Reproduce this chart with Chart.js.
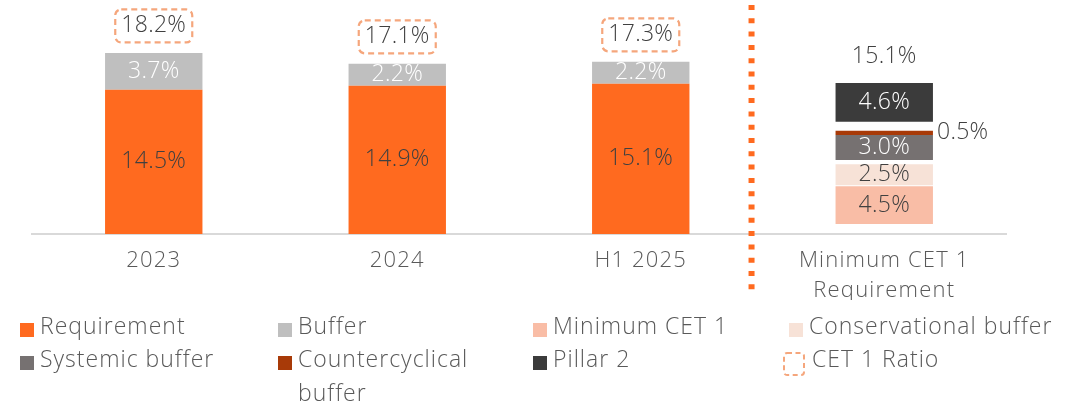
<!DOCTYPE html>
<html>
<head>
<meta charset="utf-8">
<script src="https://cdn.jsdelivr.net/npm/chart.js@4.4.1/dist/chart.umd.min.js"></script>
<style>
  html, body { margin: 0; padding: 0; background: #ffffff; }
  #wrap { width: 1079px; height: 408px; }
</style>
</head>
<body>
<div id="wrap"><canvas id="c" width="1079" height="408"></canvas></div>
<script>
// ---------------- DATA ----------------
const categories = ['2023', '2024', 'H1 2025', ['Minimum CET 1', 'Requirement']];
const requirement = [14.5, 14.9, 15.1, null];
const buffer = [3.7, 2.2, 2.2, null];
const cet1Ratio = [18.2, 17.1, 17.3, null];
const minimumLabels = ['Minimum CET 1', 'Conservational buffer', 'Systemic buffer', 'Countercyclical buffer', 'Pillar 2'];
const minimumValues = [4.5, 2.5, 3.0, 0.5, 4.6];

// ---------------- STYLE ----------------
const FONT = "'Open Sans', sans-serif";
const W = 300;
const TEXT_DARK = '#404040';
const LEGEND_TEXT = '#595959';
const ORANGE = '#FF6A1F';
const GREY = '#BFBFBF';
const RATIO_COLOR = '#F5A67C';
const minColors = ['#F9BDA6', '#F7E2D7', '#767171', '#A83A08', '#3B3B3B'];
const minLabelColors = [TEXT_DARK, TEXT_DARK, '#FFFFFF', TEXT_DARK, '#FFFFFF'];
const minGaps = [1.2, 0.12, 0.48, 0, 1.07]; // visual spacing between floating segments (y2 units)

let cursor = 0;
const minDatasets = minimumValues.map((v, i) => {
  cursor += minGaps[i];
  const start = cursor;
  cursor += v;
  const end = cursor;
  return {
    label: minimumLabels[i],
    data: categories.map((_, k) => (k === categories.length - 1 ? [start, end] : null)),
    backgroundColor: minColors[i],
    yAxisID: 'y2',
    stack: 's',
    labelColor: minLabelColors[i],
    valueLabel: v,
    labelOutside: v < 1
  };
});

const datasets = [
  { label: 'Requirement', data: requirement, backgroundColor: ORANGE, yAxisID: 'y', stack: 's', labelColor: TEXT_DARK },
  { label: 'Buffer', data: buffer, backgroundColor: GREY, yAxisID: 'y', stack: 's', labelColor: '#FFFFFF' },
  ...minDatasets,
  { type: 'line', label: 'CET 1 Ratio', data: cet1Ratio, yAxisID: 'y', showLine: false, pointRadius: 0,
    borderColor: RATIO_COLOR, backgroundColor: 'rgba(0,0,0,0)', isRatio: true }
];

const fmt = v => v.toFixed(1) + '%';

const spacingPlugin = {
  id: 'spacing',
  beforeDraw(chart) { chart.ctx.letterSpacing = '1.2px'; }
};

const labelPlugin = {
  id: 'valueLabels',
  afterDatasetsDraw(chart) {
    const ctx = chart.ctx;
    ctx.save();
    ctx.letterSpacing = '0.3px';
    ctx.font = `${W} 23px ${FONT}`;
    ctx.textBaseline = 'middle';
    let minTop = null;
    chart.data.datasets.forEach((ds, i) => {
      const meta = chart.getDatasetMeta(i);
      meta.data.forEach((el, j) => {
        const raw = ds.data[j];
        if (raw == null) return;
        if (ds.isRatio) {
          const cy = el.y - 27;
          ctx.save();
          ctx.setLineDash([6, 4]);
          ctx.lineWidth = 2.2;
          ctx.strokeStyle = RATIO_COLOR;
          ctx.beginPath();
          ctx.roundRect(el.x - 38.5, cy - 16.5, 77, 33, 6);
          ctx.stroke();
          ctx.restore();
          ctx.fillStyle = TEXT_DARK;
          ctx.textAlign = 'center';
          ctx.fillText(fmt(raw), el.x, cy);
          return;
        }
        const v = ds.valueLabel !== undefined ? ds.valueLabel : raw;
        const cy = (el.y + el.base) / 2;
        ctx.fillStyle = ds.labelColor;
        if (ds.labelOutside) {
          ctx.textAlign = 'left';
          ctx.fillText(fmt(v), el.x + el.width / 2 + 4, cy);
        } else {
          ctx.textAlign = 'center';
          ctx.fillText(fmt(v), el.x, cy);
        }
        if (Array.isArray(raw)) {
          if (minTop === null || el.y < minTop.y) minTop = { x: el.x, y: el.y };
        }
      });
    });
    if (minTop) {
      const total = minimumValues.reduce((a, b) => a + b, 0);
      ctx.fillStyle = TEXT_DARK;
      ctx.textAlign = 'center';
      ctx.fillText(fmt(total), minTop.x, minTop.y - 27);
    }
    ctx.restore();
  }
};

const decoPlugin = {
  id: 'deco',
  afterDraw(chart) {
    const ctx = chart.ctx;
    // dotted separator
    const x = chart.scales.x.getPixelForValue(2.455);
    ctx.save();
    ctx.strokeStyle = ORANGE;
    ctx.lineWidth = 6;
    ctx.setLineDash([5, 8.3]);
    ctx.beginPath();
    ctx.moveTo(x, 5);
    ctx.lineTo(x, 291);
    ctx.stroke();
    ctx.restore();

    // legend grid
    const colX = [20, 278, 533, 789];
    const rowY = [327, 360];
    const lineH = 34;
    ctx.save();
    ctx.letterSpacing = '1px';
    ctx.font = `${W} 23px ${FONT}`;
    ctx.textBaseline = 'middle';
    ctx.textAlign = 'left';
    chart.data.datasets.forEach((ds, i) => {
      const col = i % 4, row = Math.floor(i / 4);
      const mx = colX[col], my = rowY[row];
      const tx = mx + 20;
      const maxW = (col < 3 ? colX[col + 1] : chart.width) - tx - 4;
      if (ds.isRatio) {
        ctx.save();
        ctx.setLineDash([5, 3.5]);
        ctx.lineWidth = 2;
        ctx.strokeStyle = RATIO_COLOR;
        ctx.beginPath();
        ctx.roundRect(mx - 5, my - 7, 20, 22, 3);
        ctx.stroke();
        ctx.restore();
      } else {
        ctx.fillStyle = ds.backgroundColor;
        ctx.fillRect(mx, my - 4, 14, 14);
      }
      // wrap text
      const words = ds.label.split(' ');
      const lines = [];
      let cur = '';
      words.forEach(w => {
        const test = cur ? cur + ' ' + w : w;
        if (ctx.measureText(test).width > maxW && cur) { lines.push(cur); cur = w; }
        else cur = test;
      });
      lines.push(cur);
      ctx.fillStyle = LEGEND_TEXT;
      lines.forEach((ln, k) => ctx.fillText(ln, ds.isRatio ? tx + 3 : tx, my + k * lineH));
    });
    ctx.restore();
  }
};

new Chart(document.getElementById('c'), {
  type: 'bar',
  data: { labels: categories, datasets },
  options: {
    responsive: false,
    animation: false,
    devicePixelRatio: 1,
    layout: { padding: { left: 32, right: 73, top: 35, bottom: 108 } },
    datasets: { bar: { categoryPercentage: 1, barPercentage: 0.4, borderWidth: 0 } },
    plugins: { legend: { display: false }, tooltip: { enabled: false } },
    scales: {
      x: {
        stacked: true,
        grid: { display: false, drawTicks: false },
        border: { display: true, color: '#D9D9D9', width: 2 },
        ticks: { color: LEGEND_TEXT, font: { family: FONT, size: 22, weight: W, lineHeight: 1.364 }, padding: 12, maxRotation: 0 },
        afterFit(scale) { scale.height = 66; }
      },
      y: { stacked: true, display: false, min: 0, max: 20 },
      y2: { stacked: false, display: false, min: 0, max: 23.7 }
    }
  },
  plugins: [spacingPlugin, labelPlugin, decoPlugin]
});
</script>
</body>
</html>
